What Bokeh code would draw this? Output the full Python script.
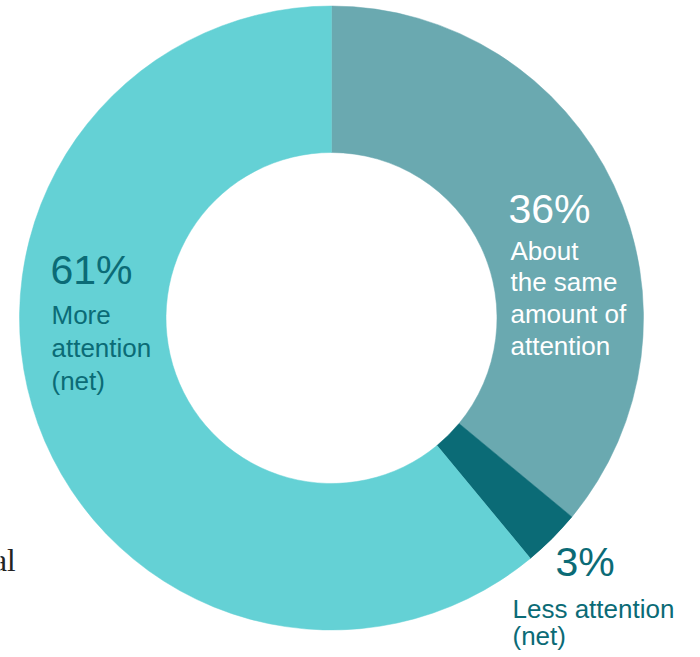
import math
from bokeh.plotting import figure
from bokeh.models import Range1d, ColumnDataSource
from bokeh.core.properties import value
from bokeh.embed import file_html
from bokeh.resources import INLINE

# ---- data ----
categories = ["About the same amount of attention", "Less attention (net)", "More attention (net)"]
shares = [36, 3, 61]
pct_labels = ["36%", "3%", "61%"]
label_lines = [
    ["About", "the same", "amount of", "attention"],
    ["Less attention", "(net)"],
    ["More", "attention", "(net)"],
]
colors = ["#6AA9B0", "#0B6B76", "#64D1D5"]
text_colors = ["#FFFFFF", "#0B6B76", "#0B6B76"]
stray_text = "al"

W, H = 700, 657
cx, cy_px = 331, 317.5
R_out, R_in = 312, 165.5

def Y(px):
    return H - px

p = figure(width=W, height=H, output_backend="svg", toolbar_location=None,
           x_range=Range1d(0, W), y_range=Range1d(0, H), min_border=0)
p.axis.visible = False
p.grid.visible = False
p.outline_line_color = None
p.background_fill_color = "white"
p.border_fill_color = "white"

total = sum(shares)
starts, ends = [], []
cum = 0
for s in shares:
    a0 = math.pi / 2 - 2 * math.pi * cum / total
    cum += s
    a1 = math.pi / 2 - 2 * math.pi * cum / total
    starts.append(a1)
    ends.append(a0)

src = ColumnDataSource(dict(x=[cx] * 3, y=[Y(cy_px)] * 3, start=starts, end=ends, color=colors))
p.annular_wedge(x="x", y="y", inner_radius=R_in, outer_radius=R_out,
                start_angle="start", end_angle="end", fill_color="color",
                line_color="color", line_width=0.5, source=src)

# label layout: (pct x, pct baseline, lines x, first line baseline, line spacing)
layout = [
    (508, 224, 510, 260, 31.8),
    (555, 577, 512, 618, 27),
    (50, 285, 51, 324, 33),
]
PCT_SIZE, LBL_SIZE = 41, 26
shift = 0.38  # compensation of the renderer's baseline offset (fraction of font size)
font = value("Liberation Sans")
for i in range(3):
    px_, pb, lx, lb, ls = layout[i]
    p.text(x=[px_], y=[Y(pb - shift * PCT_SIZE)], text=[pct_labels[i]], text_font=font,
           text_font_size=f"{PCT_SIZE}px", text_color=text_colors[i],
           text_baseline="alphabetic", text_align="left")
    lines = label_lines[i]
    p.text(x=[lx] * len(lines),
           y=[Y(lb + k * ls - shift * LBL_SIZE) for k in range(len(lines))],
           text=lines, text_font=font, text_font_size=f"{LBL_SIZE}px",
           text_color=text_colors[i], text_baseline="alphabetic", text_align="left")

p.text(x=[15], y=[Y(572 - shift * 31)], text=[stray_text], text_font=value("Liberation Serif"),
       text_font_size="31px", text_color="#222222", text_baseline="alphabetic",
       text_align="right")

open("out.html", "w").write(file_html(p, INLINE))
